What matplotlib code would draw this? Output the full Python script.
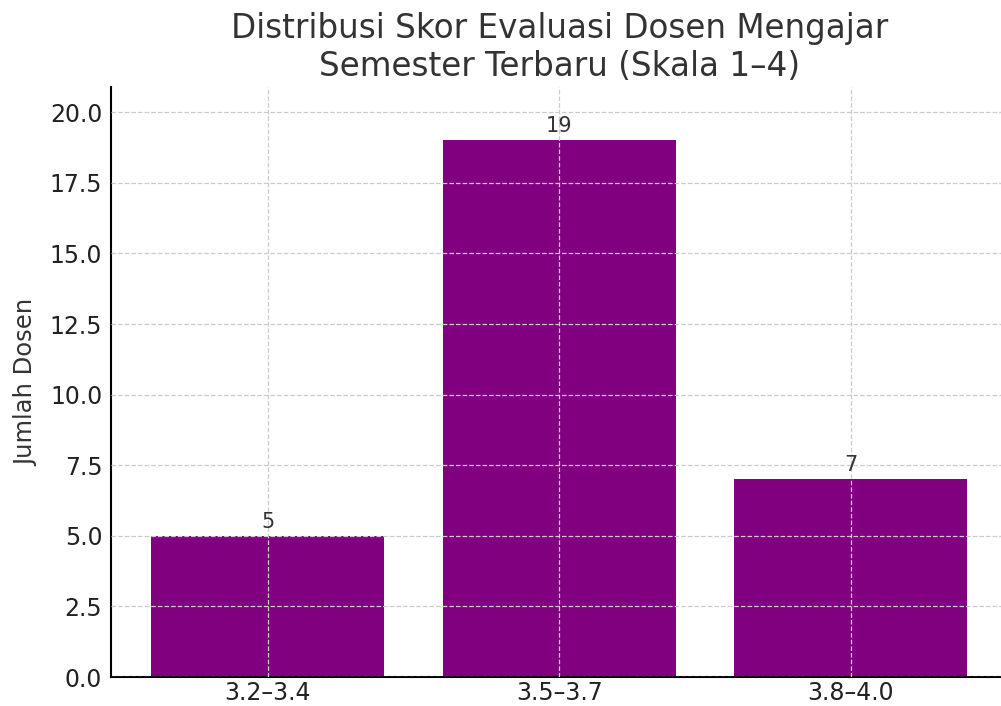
import matplotlib.pyplot as plt

categories = ["3.2–3.4", "3.5–3.7", "3.8–4.0"]
counts = [5, 19, 7]

fig, ax = plt.subplots(figsize=(10.01, 7.06), dpi=100)
fig.subplots_adjust(left=0.1105, right=1.007, top=0.877, bottom=0.041)

bars = ax.bar(categories, counts, color="#800080", width=0.8)
for b, v in zip(bars, counts):
    ax.annotate(str(v), (b.get_x() + b.get_width() / 2, v),
                xytext=(0, 3), textcoords="offset points",
                ha="center", va="bottom", fontsize=15, color="#333333")

ax.set_ylim(0, 20.9)
ax.set_ylabel("Jumlah Dosen", fontsize=17.5, color="#333333", labelpad=8)
ax.set_title("Distribusi Skor Evaluasi Dosen Mengajar\nSemester Terbaru (Skala 1–4)",
             fontsize=23.5, color="#333333", pad=8)
ax.tick_params(labelsize=17, colors="#222222", length=0, pad=6)
ax.tick_params(axis="x", pad=3)
ax.grid(True, linestyle="--", color="#cccccc", linewidth=0.9)
ax.set_axisbelow(False)
for s in ["top", "right"]:
    ax.spines[s].set_visible(False)
ax.spines["left"].set_linewidth(1.5)
ax.spines["bottom"].set_linewidth(1.5)

plt.savefig("out.png", dpi=100)
